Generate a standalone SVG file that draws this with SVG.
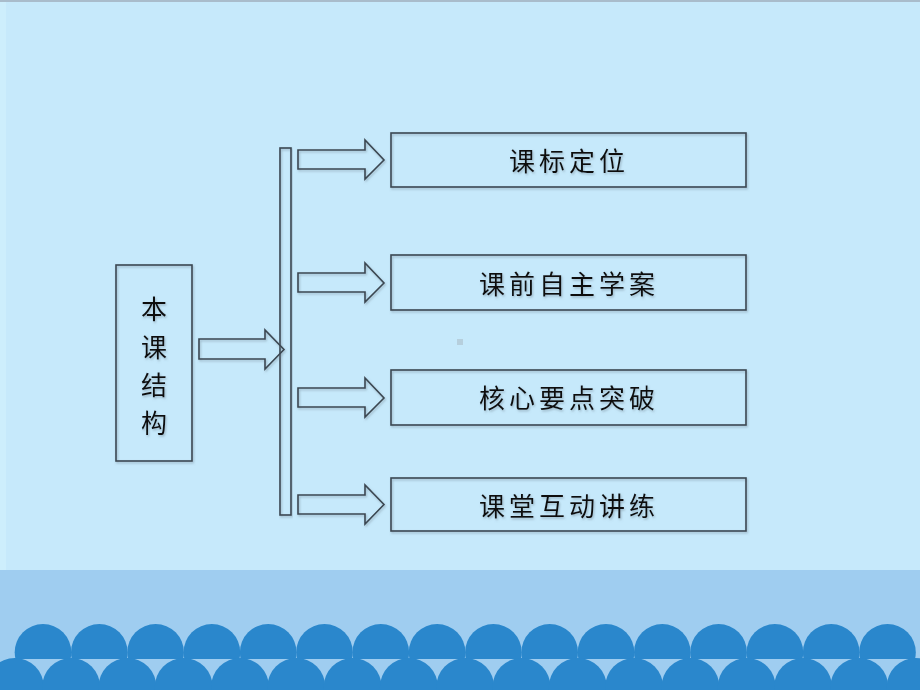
<svg xmlns="http://www.w3.org/2000/svg" width="920" height="690" viewBox="0 0 920 690">
  <defs>
    <style>
      .box { fill: none; stroke: #3b4751; stroke-width: 1.6; }
      .arrow { fill: none; stroke: #3b4751; stroke-width: 1.6; stroke-linejoin: miter; }
      .label { font-family: "Noto Sans CJK SC", "Noto Sans", sans-serif; font-size: 26px; fill: #111; text-anchor: middle; dominant-baseline: central; letter-spacing: 4px; }
      .vlabel { font-family: "Noto Sans CJK SC", "Noto Sans", sans-serif; font-size: 26px; fill: #111; text-anchor: middle; dominant-baseline: central; }
      .wave { fill: #2a87cc; }
    </style>
    <filter id="sh" x="-5%" y="-5%" width="115%" height="120%">
      <feDropShadow dx="1" dy="1.5" stdDeviation="1" flood-color="#6a7f8c" flood-opacity="0.5"/>
    </filter>
    <clipPath id="upperClip">
      <rect x="0" y="600" width="920" height="59"/>
    </clipPath>
  </defs>

  <!-- background -->
  <rect x="0" y="0" width="920" height="690" fill="#c6e9fb"/>
  <rect x="0" y="0" width="6" height="570" fill="#cdeefc"/>
  <rect x="0" y="0" width="920" height="2" fill="#a9bccb"/>
  <rect x="457" y="339" width="6" height="6" fill="#b6cfdd"/>

  <!-- bottom band -->
  <rect x="0" y="570" width="920" height="120" fill="#9fcdf0"/>
  <g clip-path="url(#upperClip)" class="wave">
    <circle cx="43" cy="652.3" r="28.3"/>
    <circle cx="99.3" cy="652.3" r="28.3"/>
    <circle cx="155.6" cy="652.3" r="28.3"/>
    <circle cx="211.9" cy="652.3" r="28.3"/>
    <circle cx="268.2" cy="652.3" r="28.3"/>
    <circle cx="324.5" cy="652.3" r="28.3"/>
    <circle cx="380.8" cy="652.3" r="28.3"/>
    <circle cx="437.1" cy="652.3" r="28.3"/>
    <circle cx="493.4" cy="652.3" r="28.3"/>
    <circle cx="549.7" cy="652.3" r="28.3"/>
    <circle cx="606" cy="652.3" r="28.3"/>
    <circle cx="662.3" cy="652.3" r="28.3"/>
    <circle cx="718.6" cy="652.3" r="28.3"/>
    <circle cx="774.9" cy="652.3" r="28.3"/>
    <circle cx="831.2" cy="652.3" r="28.3"/>
    <circle cx="887.5" cy="652.3" r="28.3"/>
  </g>
  <g class="wave">
    <circle cx="14.85" cy="687" r="29"/>
    <circle cx="71.15" cy="687" r="29"/>
    <circle cx="127.45" cy="687" r="29"/>
    <circle cx="183.75" cy="687" r="29"/>
    <circle cx="240.05" cy="687" r="29"/>
    <circle cx="296.35" cy="687" r="29"/>
    <circle cx="352.65" cy="687" r="29"/>
    <circle cx="408.95" cy="687" r="29"/>
    <circle cx="465.25" cy="687" r="29"/>
    <circle cx="521.55" cy="687" r="29"/>
    <circle cx="577.85" cy="687" r="29"/>
    <circle cx="634.15" cy="687" r="29"/>
    <circle cx="690.45" cy="687" r="29"/>
    <circle cx="746.75" cy="687" r="29"/>
    <circle cx="803.05" cy="687" r="29"/>
    <circle cx="859.35" cy="687" r="29"/>
    <circle cx="915.65" cy="687" r="29"/>
  </g>

  <!-- nodes -->
  <g id="node-root" filter="url(#sh)">
    <rect class="box" x="116" y="265" width="76" height="196"/>
    <text class="vlabel" x="154" y="307">本</text>
    <text class="vlabel" x="154" y="345">课</text>
    <text class="vlabel" x="154" y="383">结</text>
    <text class="vlabel" x="154" y="421">构</text>
  </g>

  <g id="node-bar" filter="url(#sh)">
    <rect class="box" x="280" y="148" width="11" height="367"/>
  </g>

  <g id="node-1" filter="url(#sh)">
    <rect class="box" x="391" y="133" width="355" height="54"/>
    <text class="label" x="569" y="159">课标定位</text>
  </g>
  <g id="node-2" filter="url(#sh)">
    <rect class="box" x="391" y="255" width="355" height="55"/>
    <text class="label" x="569" y="282">课前自主学案</text>
  </g>
  <g id="node-3" filter="url(#sh)">
    <rect class="box" x="391" y="370" width="355" height="55"/>
    <text class="label" x="569" y="396">核心要点突破</text>
  </g>
  <g id="node-4" filter="url(#sh)">
    <rect class="box" x="391" y="478" width="355" height="53"/>
    <text class="label" x="569" y="504">课堂互动讲练</text>
  </g>

  <!-- connectors -->
  <g id="connectors" filter="url(#sh)">
    <path class="arrow" d="M199,339 H265 V330 L284,349.5 L265,369 V359 H199 Z"/>
    <path class="arrow" d="M298,150 H365 V140 L384,160 L365,179 V169 H298 Z"/>
    <path class="arrow" d="M298,273 H365 V263 L384,283 L365,302 V292 H298 Z"/>
    <path class="arrow" d="M298,388 H365 V378 L384,398 L365,417 V407 H298 Z"/>
    <path class="arrow" d="M298,495 H365 V485 L384,504.5 L365,524 V514 H298 Z"/>
  </g>
</svg>
